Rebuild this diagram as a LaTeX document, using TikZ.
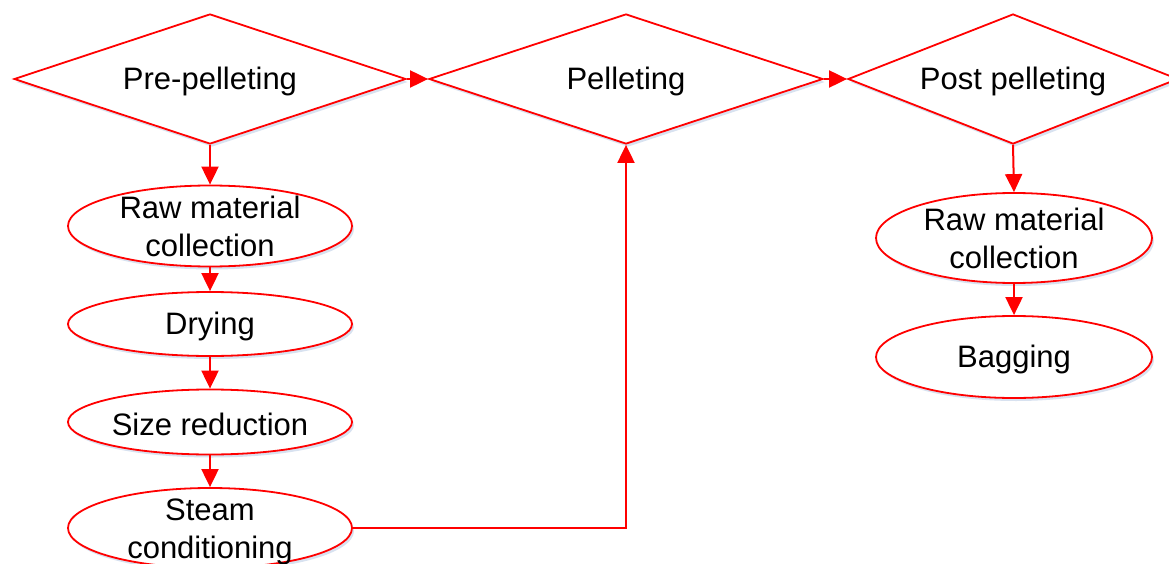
\documentclass[tikz,border=0pt]{standalone}
\usepackage{fontspec}
\setmainfont{Liberation Sans}
\usetikzlibrary{shapes.geometric,arrows.meta,shadows}
\definecolor{shcol}{RGB}{200,214,234}
\begin{document}
\begin{tikzpicture}[x=1pt,y=-1pt,
  shade/.style={drop shadow={shadow xshift=2pt,shadow yshift=-3pt,fill=shcol,opacity=0.7}},
  dec/.style={diamond,draw=red,line width=1.8pt,fill=white,inner sep=0pt,shade},
  proc/.style={ellipse,draw=red,line width=1.8pt,fill=white,inner sep=0pt,shade},
  txt/.style={font=\fontsize{31}{38}\selectfont,align=center,inner sep=0pt,text=black},
  one/.style={txt,yshift=-2.5pt},
  arr/.style={draw=red,line width=2pt,-{Triangle[length=18pt,width=17pt]}}]
\useasboundingbox (0,0) rectangle (1169,564);
% diamonds
\node[dec,minimum width=392pt,minimum height=130pt] (d1) at (210,79) {};
\node[one] (d1t) at (d1.center) {Pre-pelleting};
\node[dec,minimum width=394pt,minimum height=130pt] (d2) at (626,79) {};
\node[one] (d2t) at (d2.center) {Pelleting};
\node[dec,minimum width=330pt,minimum height=130pt] (d3) at (1013,79) {};
\node[one] (d3t) at (d3.center) {Post pelleting};
% left column
\node[proc,minimum width=284pt,minimum height=81pt] (a1) at (210,226) {};
\node[txt] (a1t) at (a1.center) {Raw material\\collection};
\node[proc,minimum width=284pt,minimum height=64pt] (a2) at (210,324) {};
\node[one] (a2t) at (a2.center) {Drying};
\node[proc,minimum width=284pt,minimum height=65pt] (a3) at (210,422) {};
\node[one] (a3t) at (a3.center) {Size reduction};
\node[proc,minimum width=284pt,minimum height=80pt] (a4) at (210,528) {};
\node[txt,yshift=-4pt] (a4t) at (a4.center) {Steam\\conditioning};
% right column
\node[proc,minimum width=276pt,minimum height=90pt] (b1) at (1014,238) {};
\node[txt] (b1t) at (b1.center) {Raw material\\collection};
\node[proc,minimum width=276pt,minimum height=82pt] (b2) at (1014,357) {};
\node[one] (b2t) at (b2.center) {Bagging};
% connectors
\draw[arr] (d1.east) -- (d2.west);
\draw[arr] (d2.east) -- (d3.west);
\draw[arr] (d1.south) -- (a1.north);
\draw[arr] (a1.south) -- (a2.north);
\draw[arr] (a2.south) -- (a3.north);
\draw[arr] (a3.south) -- (a4.north);
\draw[arr] (a4.east) -| (d2.south);
\draw[arr] (d3.south) -- (b1.north);
\draw[arr] (b1.south) -- (b2.north);
\end{tikzpicture}
\end{document}
